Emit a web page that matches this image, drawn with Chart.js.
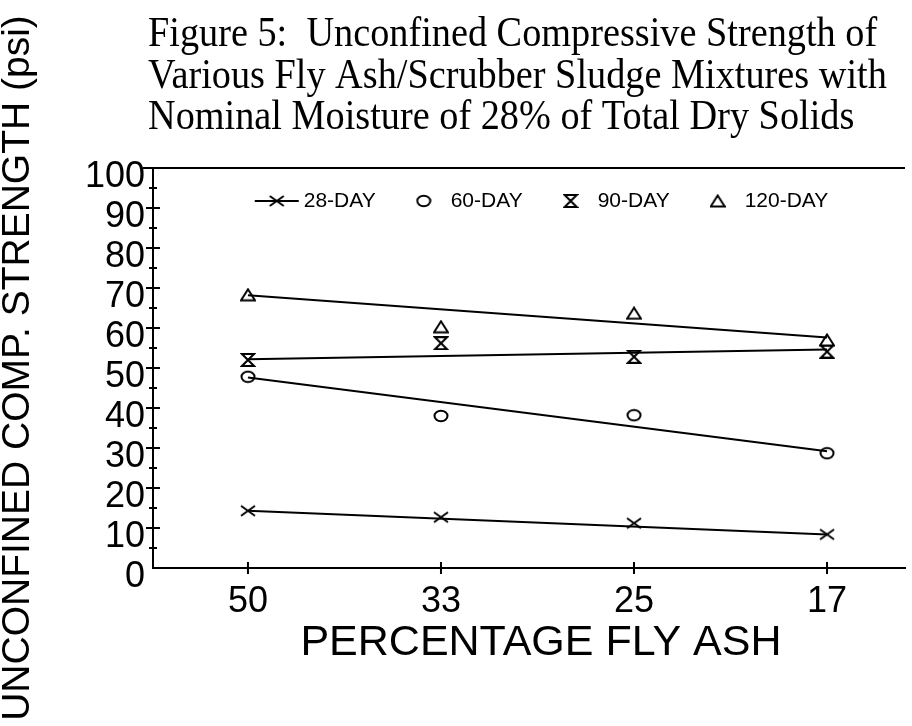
<!DOCTYPE html>
<html>
<head>
<meta charset="utf-8">
<title>Figure 5</title>
<script src="https://cdn.jsdelivr.net/npm/chart.js@4.4.1/dist/chart.umd.min.js"></script>
<style>
  html, body { margin: 0; padding: 0; background: #fff; }
  #wrap { width: 912px; height: 726px; }
</style>
</head>
<body>
<div id="wrap"><canvas id="strength_graph" width="912" height="726"></canvas></div>
<script>
// percentage fly ash (x categories, left to right)
var flyAsh = ['50', '33', '25', '17'];
var seriesNames = ['28-DAY', '60-DAY', '90-DAY', '120-DAY'];

var day28 = [14.3, 12.7, 11.2, 8.4];
var day60 = [47.8, 38.0, 38.2, 28.7];
var day90 = [52.0, 56.2, 52.8, 54.1];
var day120 = [68.3, 60.3, 63.7, 57.0];

// fitted trend lines, value at 50% and at 17% fly ash
var fit28 = [14.3, 8.4];
var fit60 = [47.6, 29.2];
var fit90 = [52.2, 54.6];
var fit120 = [68.2, 57.6];

var yTicks = [0, 10, 20, 30, 40, 50, 60, 70, 80, 90, 100];

var titleLines = [
	'Figure 5:  Unconfined Compressive Strength of',
	'Various Fly Ash/Scrubber Sludge Mixtures with',
	'Nominal Moisture of 28% of Total Dry Solids'
];

// little canvases used as point styles
function makeMarker(kind, withLine) {
	var w = withLine ? 46 : 16;
	var h = 14;
	var c = document.createElement('canvas');
	c.width = w;
	c.height = h;
	var ctx = c.getContext('2d');
	ctx.strokeStyle = '#000';
	ctx.lineWidth = 2;
	var cx = w / 2, cy = h / 2;
	if (withLine) {
		ctx.beginPath();
		ctx.moveTo(1, cy);
		ctx.lineTo(w - 1, cy);
		ctx.stroke();
	}
	ctx.beginPath();
	if (kind == 'cross') {
		ctx.moveTo(cx - 7, cy - 5);
		ctx.lineTo(cx + 7, cy + 5);
		ctx.moveTo(cx + 7, cy - 5);
		ctx.lineTo(cx - 7, cy + 5);
	} else if (kind == 'circle') {
		ctx.ellipse(cx, cy, 6.5, 5.2, 0, 0, Math.PI * 2);
	} else if (kind == 'hourglass') {
		ctx.moveTo(cx - 6, cy - 6);
		ctx.lineTo(cx + 6, cy - 6);
		ctx.lineTo(cx, cy);
		ctx.closePath();
		ctx.moveTo(cx - 6, cy + 6);
		ctx.lineTo(cx + 6, cy + 6);
		ctx.lineTo(cx, cy);
		ctx.closePath();
	} else if (kind == 'triangle') {
		ctx.moveTo(cx, cy - 5.5);
		ctx.lineTo(cx + 7, cy + 5.5);
		ctx.lineTo(cx - 7, cy + 5.5);
		ctx.closePath();
	}
	ctx.stroke();
	return c;
}

var kinds = ['cross', 'circle', 'hourglass', 'triangle'];
var plotMarkers = kinds.map(function(k) { return makeMarker(k, false); });
var legendIcons = kinds.map(function(k, i) { return makeMarker(k, i == 0); });

function points(values) {
	return values.map(function(v, i) { return {x: i, y: v}; });
}
function fitLine(ends) {
	return [{x: 0, y: ends[0]}, {x: flyAsh.length - 1, y: ends[1]}];
}

var measured = [day28, day60, day90, day120];
var fits = [fit28, fit60, fit90, fit120];
var datasets = [];

for (var i = 0; i < measured.length; i++) {
	datasets.push({
		label: seriesNames[i],
		data: points(measured[i]),
		showLine: false,
		pointStyle: plotMarkers[i],
		pointRadius: 6,
		borderColor: '#000',
		backgroundColor: '#000'
	});
}
for (var j = 0; j < fits.length; j++) {
	datasets.push({
		label: seriesNames[j] + ' fit',
		data: fitLine(fits[j]),
		showLine: true,
		pointRadius: 0,
		borderColor: '#000',
		borderWidth: 2
	});
}

var sansFont = '"Liberation Sans", Arial, sans-serif';

// ticks that cross the axes, the top frame line, the legend row and the figure title
var framePlugin = {
	id: 'frame',
	afterDraw: function(chart) {
		var ctx = chart.ctx;
		var area = chart.chartArea;
		var ys = chart.scales.y;
		var xs = chart.scales.x;
		ctx.save();
		ctx.strokeStyle = '#000';
		ctx.lineWidth = 2;
		ctx.beginPath();
		ctx.moveTo(area.left - 10, area.top);
		ctx.lineTo(area.right, area.top);
		for (var v = 5; v < 100; v += 5) {
			var py = ys.getPixelForValue(v);
			var len = (v % 10 == 0) ? 7 : 4;
			ctx.moveTo(area.left - len, py);
			ctx.lineTo(area.left + len, py);
		}
		for (var k = 0; k < flyAsh.length; k++) {
			var px = xs.getPixelForValue(k);
			ctx.moveTo(px, area.bottom - 6);
			ctx.lineTo(px, area.bottom + 6);
		}
		ctx.stroke();

		// legend row inside the plot
		ctx.fillStyle = '#000';
		ctx.font = '21px ' + sansFont;
		ctx.textBaseline = 'middle';
		var gap = 75;
		var widths = seriesNames.map(function(s) { return ctx.measureText(s).width; });
		var total = 50 + gap * (seriesNames.length - 1);
		widths.forEach(function(w) { total += w; });
		var tx = (area.left + area.right) / 2 + 12 - total / 2 + 50;
		var ly = area.top + 33;
		for (var n = 0; n < seriesNames.length; n++) {
			var icon = legendIcons[n];
			ctx.drawImage(icon, tx - 27 - icon.width / 2, ly - icon.height / 2);
			ctx.fillText(seriesNames[n], tx, ly);
			tx += widths[n] + gap;
		}

		ctx.textBaseline = 'alphabetic';
		ctx.font = '43px "Liberation Serif", "Times New Roman", serif';
		for (var t = 0; t < titleLines.length; t++) {
			ctx.save();
			ctx.translate(148, 46 + t * 41.5);
			ctx.scale(0.89, 1);
			ctx.fillText(titleLines[t], 0, 0);
			ctx.restore();
		}
		ctx.restore();
	}
};

var strengthGraph = new Chart(document.getElementById('strength_graph'), {
	type: 'scatter',
	data: { datasets: datasets },
	plugins: [framePlugin],
	options: {
		responsive: false,
		animation: false,
		layout: { padding: { top: 168, left: 0, right: 0, bottom: 0 } },
		plugins: {
			tooltip: { enabled: false },
			title: { display: false },
			legend: { display: false }
		},
		scales: {
			x: {
				type: 'linear',
				min: -0.492,
				max: 3.404,
				grid: { display: false, drawTicks: false },
				border: { display: true, color: '#000', width: 2 },
				afterBuildTicks: function(axis) {
					axis.ticks = flyAsh.map(function(l, n) { return {value: n}; });
				},
				afterFit: function(axis) { axis.height = 158; },
				ticks: {
					color: '#000',
					padding: 12,
					autoSkip: false,
					font: { family: sansFont, size: 36 },
					callback: function(value) { return flyAsh[value]; }
				},
				title: {
					display: true,
					text: '  PERCENTAGE FLY ASH',
					color: '#000',
					padding: { top: 0, bottom: 57 },
					font: { family: sansFont, size: 43, lineHeight: 1.2 }
				}
			},
			y: {
				min: 0,
				max: 100,
				grid: { display: false, drawTicks: false },
				border: { display: true, color: '#000', width: 2 },
				afterBuildTicks: function(axis) {
					axis.ticks = yTicks.map(function(v) { return {value: v}; });
				},
				afterFit: function(axis) { axis.width = 153; },
				ticks: {
					color: '#000',
					padding: 8,
					autoSkip: false,
					labelOffset: 9,
					font: { family: sansFont, size: 36 }
				},
				title: {
					display: true,
					text: 'UNCONFINED COMP. STRENGTH (psi)',
					color: '#000',
					padding: { top: 0, bottom: 0 },
					font: { family: sansFont, size: 39, lineHeight: 0.92 }
				}
			}
		}
	}
});
</script>
</body>
</html>
